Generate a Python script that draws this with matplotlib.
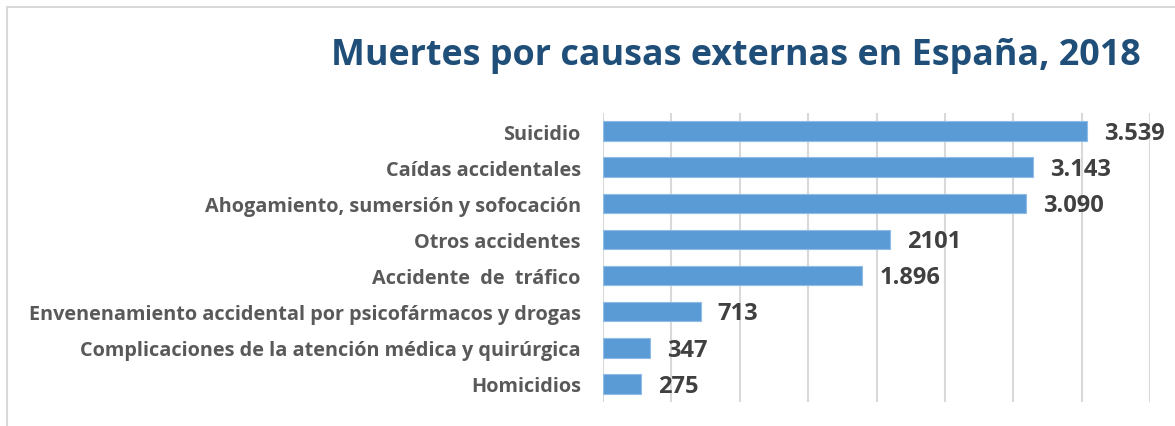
import matplotlib.pyplot as plt
from matplotlib.patches import Rectangle

categorias = [
    'Suicidio',
    'Caídas accidentales',
    'Ahogamiento, sumersión y sofocación',
    'Otros accidentes',
    'Accidente  de  tráfico',
    'Envenenamiento accidental por psicofármacos y drogas',
    'Complicaciones de la atención médica y quirúrgica',
    'Homicidios',
]
muertes = [3539, 3143, 3090, 2101, 1896, 713, 347, 275]
etiquetas = ['3.539', '3.143', '3.090', '2101', '1.896', '713', '347', '275']

W, H = 1175, 427
fig = plt.figure(figsize=(W / 100, H / 100), dpi=100)
fig.patch.set_facecolor('white')

# marco gris claro (solo se ve arriba e izquierda)
fig.patches.append(Rectangle((7 / W, -0.1), 1.2, (H - 8) / H + 0.1,
                             transform=fig.transFigure, fill=False,
                             edgecolor='#D9D9D9', linewidth=1.5))

ax = fig.add_axes([603 / W, 1 - 403 / H, (1150 - 603) / W, (403 - 114) / H])
pos = list(range(len(categorias)))
ax.barh(pos, muertes, height=0.54, color='#5B9BD5', edgecolor='#8FBCE6',
        linewidth=0.8, zorder=2)
ax.set_xlim(0, 4000)
ax.set_ylim(len(categorias) - 0.5, -0.5)
ax.set_xticks(range(0, 4001, 500))
ax.xaxis.grid(True, color='#D9D9D9', linewidth=1.5, zorder=0)
ax.tick_params(axis='x', length=0, labelbottom=False)
ax.tick_params(axis='y', length=0, pad=16)
ax.set_yticks(pos)
ax.set_yticklabels(categorias, fontsize=14.3, fontweight='bold',
                   color='#595959', family='Open Sans')
for s in ax.spines.values():
    s.set_visible(False)

for p, v, t in zip(pos, muertes, etiquetas):
    ax.text(v + 125, p + 0.05, t, va='center', ha='left', fontsize=17,
            fontweight='bold', color='#404040', family='Open Sans')

fig.text(736 / W, 1 - 56 / H, 'Muertes por causas externas en España, 2018',
         ha='center', va='center', fontsize=25.8, fontweight='bold',
         color='#1F4E79', family='Open Sans')

fig.savefig('out.png', dpi=100)
